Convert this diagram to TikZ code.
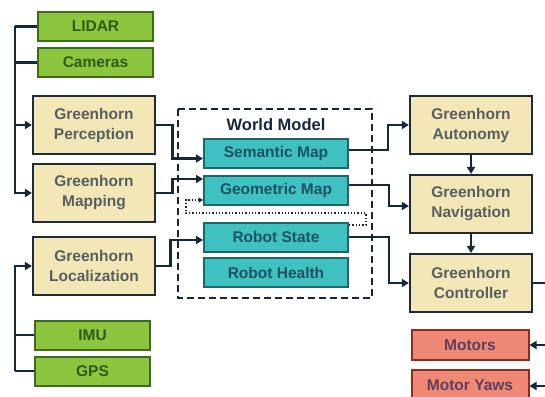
\documentclass[tikz,border=0pt]{standalone}
\usepackage{fontspec}
\setmainfont{Liberation Sans}
\usetikzlibrary{arrows.meta,positioning}
\definecolor{Ink}{HTML}{15273D}
\definecolor{SensorFill}{HTML}{8CC63E}
\definecolor{SensorEdge}{HTML}{3F6B1C}
\definecolor{SensorText}{HTML}{2F5A16}
\definecolor{ModuleFill}{HTML}{F3E7B8}
\definecolor{ModuleEdge}{HTML}{1E2B38}
\definecolor{ModuleText}{HTML}{55605E}
\definecolor{ModelFill}{HTML}{3EC1C0}
\definecolor{ModelEdge}{HTML}{1D6769}
\definecolor{ModelText}{HTML}{1C5262}
\definecolor{ActFill}{HTML}{F08876}
\definecolor{ActEdge}{HTML}{8A2E1E}
\definecolor{ActText}{HTML}{5E3E5E}
\tikzset{
  sensor/.style={
    draw=SensorEdge, line width=2pt, fill=SensorFill, text=SensorText,
    minimum width=115pt, minimum height=29pt, inner sep=0pt,
    font=\bfseries\fontsize{15.5}{18}\selectfont
  },
  module/.style={
    draw=ModuleEdge, line width=2.2pt, fill=ModuleFill, text=ModuleText,
    minimum width=122pt, minimum height=58pt, inner sep=0pt, align=center,
    font=\bfseries\fontsize{15.5}{20}\selectfont
  },
  layer/.style={
    draw=ModelEdge, line width=2pt, fill=ModelFill, text=ModelText,
    minimum width=144pt, minimum height=29pt, inner sep=0pt,
    font=\bfseries\fontsize{15.5}{18}\selectfont
  },
  actuator/.style={
    draw=ActEdge, line width=2pt, fill=ActFill, text=ActText,
    minimum width=117pt, minimum height=30pt, inner sep=0pt,
    font=\bfseries\fontsize{15.5}{18}\selectfont
  },
  link/.style={line width=2.8pt, draw=Ink},
  flow/.style={-{Triangle[length=7pt,width=8pt]}, line width=2.8pt, draw=Ink},
  dotflow/.style={-{Triangle[length=4.5pt,width=5pt]}, line width=1.3pt, draw=Ink, dotted},
  worldbox/.style={draw=Ink, line width=2.6pt, dash pattern=on 7pt off 4pt}
}
\begin{document}
\begin{tikzpicture}[x=1pt,y=-1pt]
  \clip (0,0) rectangle (545,396);
  \useasboundingbox (0,0) rectangle (545,396);
  \fill[white] (0,0) rectangle (545,396);
  % sensors
  \node[sensor] (lidar) at (95.5,26.5) {LIDAR};
  \node[sensor] (cameras) at (95.5,62.5) {Cameras};
  \node[sensor] (imu) at (92.5,335) {IMU};
  \node[sensor] (gps) at (92.5,371) {GPS};
  % greenhorn modules
  \node[module] (perception) at (94,125) {Greenhorn\\Perception};
  \node[module] (mapping) at (94,193) {Greenhorn\\Mapping};
  \node[module] (localization) at (94,266) {Greenhorn\\Localization};
  \node[module] (autonomy) at (471,125) {Greenhorn\\Autonomy};
  \node[module] (navigation) at (471,204) {Greenhorn\\Navigation};
  \node[module] (controller) at (471,283) {Greenhorn\\Controller};
  % world model
  \draw[worldbox] (178,109) rectangle (372,298);
  \node[font=\bfseries\fontsize{16.5}{18}\selectfont, text=Ink] (wmtitle) at (276,125) {World Model};
  \node[layer] (semantic) at (276,153.5) {Semantic Map};
  \node[layer] (geometric) at (276,190) {Geometric Map};
  \node[layer] (robotstate) at (276,237) {Robot State};
  \node[layer] (robothealth) at (276,272.5) {Robot Health};
  % actuators
  \node[actuator] (motors) at (470,345) {Motors};
  \node[actuator] (motoryaws) at (470,385) {Motor Yaws};
  % sensor buses
  \coordinate (topbus) at (15,26.5);
  \coordinate (lowbus) at (15,371);
  \draw[link] (lidar.west) -- (topbus);
  \draw[link] (cameras.west) -- (cameras.west -| topbus);
  \draw[flow] (topbus) |- (perception.west);
  \draw[flow] (topbus) |- (mapping.west);
  \draw[link] (gps.west) -- (lowbus);
  \draw[link] (imu.west) -- (imu.west -| lowbus);
  \draw[flow] (lowbus) |- (localization.west);
  % into the world model
  \draw[flow] (perception.east) -- ++(16,0) |- ([yshift=-5pt]semantic.west);
  \draw[flow] (mapping.east) -- ++(16,0) |- ([yshift=11pt]geometric.west);
  \draw[flow] (localization.east) -- ++(14,0) |- ([yshift=-3pt]robotstate.west);
  \draw[dotflow] ([yshift=12pt]robotstate.east) -- ++(17,0) -- ++(0,-12) -| (186,200)
    -- ([yshift=-10pt]geometric.west);
  % out of the world model
  \draw[flow] ([yshift=3.5pt]semantic.east) -- ++(39,0) |- (autonomy.west);
  \draw[flow] ([yshift=5pt]geometric.east) -- ++(40,0) |- ([yshift=-2pt]navigation.west);
  \draw[flow] (robotstate.east) -- ++(40,0) |- (controller.west);
  \draw[flow] (autonomy.south) -- (navigation.north);
  \draw[flow] (navigation.south) -- (controller.north);
  % to the actuators
  \coordinate (ctrlout) at (560,283);
  \coordinate (motorsin) at (560,345);
  \coordinate (yawsin) at (560,386);
  \draw[link] (controller.east) -- (ctrlout);
  \draw[flow] (motorsin) -- (motors.east);
  \draw[flow] (yawsin) -- (yawsin -| motoryaws.east);
\end{tikzpicture}
\end{document}
